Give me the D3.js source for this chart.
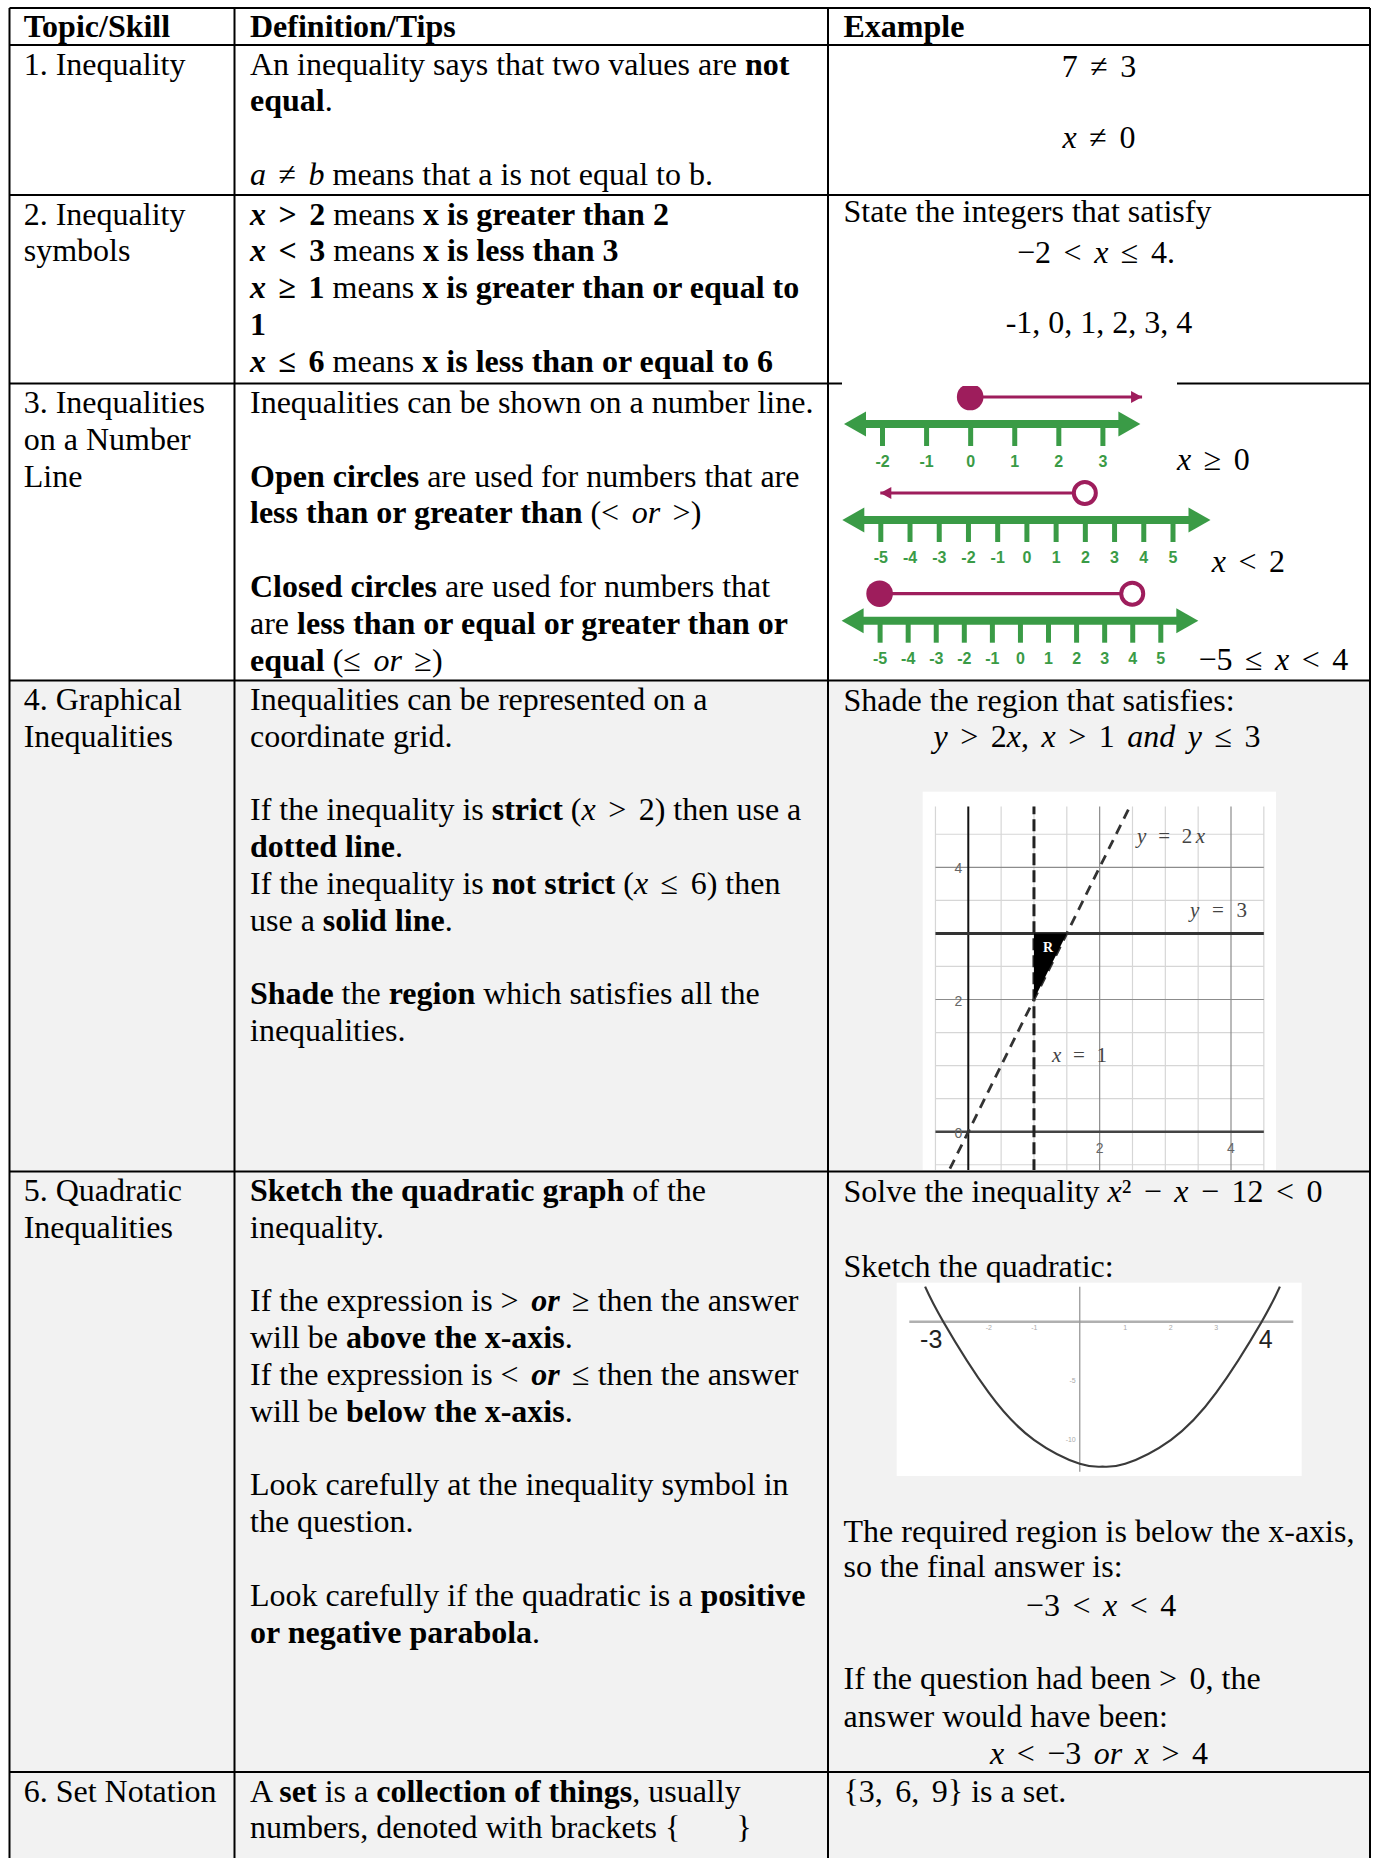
<!DOCTYPE html>
<html>
<head>
<meta charset="utf-8">
<script src="https://d3js.org/d3.v7.min.js"></script>
<style>
  body { margin: 0; background: #fff; }
  svg { display: block; }
  text { font-family: "Liberation Serif", "Times New Roman", serif; font-size: 32px; fill: #000; white-space: pre; }
</style>
</head>
<body>
<svg width="1373" height="1858"></svg>
<script>
// ---------- data ----------
var headers = ["Topic/Skill", "Definition/Tips", "Example"];

var topics = [
  ["1. Inequality"],
  ["2. Inequality", "symbols"],
  ["3. Inequalities", "on a Number", "Line"],
  ["4. Graphical", "Inequalities"],
  ["5. Quadratic", "Inequalities"],
  ["6. Set Notation"]
];

// **bold**  $math$  _italic_
var tips = [
  ["An inequality says that two values are **not**",
   "**equal**.",
   "",
   "$a ≠ b$ means that a is not equal to b."],
  ["**$x > 2$** means **x is greater than 2**",
   "**$x < 3$** means **x is less than 3**",
   "**$x ≥ 1$** means **x is greater than or equal to**",
   "**1**",
   "**$x ≤ 6$** means **x is less than or equal to 6**"],
  ["Inequalities can be shown on a number line.",
   "",
   "**Open circles** are used for numbers that are",
   "**less than or greater than** ($< or >$)",
   "",
   "**Closed circles** are used for numbers that",
   "are **less than or equal or greater than or**",
   "**equal** ($≤ or ≥$)"],
  ["Inequalities can be represented on a",
   "coordinate grid.",
   "",
   "If the inequality is **strict** ($x > 2$) then use a",
   "**dotted line**.",
   "If the inequality is **not strict** ($x ≤ 6$) then",
   "use a **solid line**.",
   "",
   "**Shade** the **region** which satisfies all the",
   "inequalities."],
  ["**Sketch the quadratic graph** of the",
   "inequality.",
   "",
   "If the expression is $> **or** ≥$ then the answer",
   "will be **above the x-axis**.",
   "If the expression is $< **or** ≤$ then the answer",
   "will be **below the x-axis**.",
   "",
   "Look carefully at the inequality symbol in",
   "the question.",
   "",
   "Look carefully if the quadratic is a **positive**",
   "**or negative parabola**."],
  ["A **set** is a **collection of things**, usually",
   "numbers, denoted with brackets {       }"]
];

var examples = [
  ["$7 ≠ 3$", "$x ≠ 0$"],
  ["State the integers that satisfy", "$−2 < x ≤ 4.$", "-1, 0, 1, 2, 3, 4"],
  [],
  ["Shade the region that satisfies:", "$y > 2x, x > 1 and y ≤ 3$"],
  ["Solve the inequality $x² − x − 12 < 0$", "Sketch the quadratic:",
   "The required region is below the x-axis,", "so the final answer is:", "$−3 < x < 4$",
   "If the question had been $> 0$, the", "answer would have been:", "$x < −3 or x > 4$"],
  ["${3, 6, 9}$ is a set."]
];

// number lines
var nlTicks = [
  [-2, -1, 0, 1, 2, 3],
  [-5, -4, -3, -2, -1, 0, 1, 2, 3, 4, 5],
  [-5, -4, -3, -2, -1, 0, 1, 2, 3, 4, 5]
];
var nlLabels = ["x ≥ 0", "x < 2", "−5 ≤ x < 4"];
var nlClosed = [[0], [], [-5]];
var nlOpen = [[], [2], [4]];
var nlRay = [[0, 3.9], [2, -5], [-5, 4]];
var nlRayArrow = [true, true, false];

// graphical inequality grid
var gridMinorX = [-0.5, 0.5, 1, 1.5, 2.5, 3, 3.5, 4.5];
var gridMajorX = [2, 4];
var gridMinorY = [-0.5, 0.5, 1, 1.5, 2.5, 3.5, 4.5];
var gridMajorY = [2, 4];
var gridSpanX = [-0.5, 4.5];
var gridSpanY = [-0.6, 4.92];
var tickLabelsY = [4, 2, 0];
var tickLabelsX = [2, 4];
var lineY3 = [[-0.5, 3], [4.5, 3]];
var lineX1 = [[1, -0.6], [1, 4.92]];
var lineY2x = [[-0.28, -0.56], [2.44, 4.88]];
var regionR = [[1, 2], [1, 3], [1.5, 3]];
var graphLabels = ["y = 2x", "y = 3", "x = 1"];

// quadratic sketch
var quadX = [-3.4, -3, -2, -1, 0, 0.5, 1, 2, 3, 4, 4.4];
var quadY = [2.96, 0, -6, -10, -12, -12.25, -12, -10, -6, 0, 2.96];
var quadTickX = [-2, -1, 1, 2, 3];
var quadTickY = [-5, -10];
var quadRoots = [-3, 4];

// ---------- layout ----------
var svg = d3.select("svg");
var colX = [9.5, 234.5, 828, 1370];
var rowY = [8, 45, 195, 383.5, 680.5, 1171.5, 1772, 1858];
var grayFrom = 4;
var lineH = 36.8, firstBase = 29.5;
var padX = [14.2, 15.5, 15.5];
var exLayout = [
  [[77, "middle", 1099], [148, "middle", 1099]],
  [[222, "start"], [263, "middle", 1096], [333, "middle", 1099]],
  [],
  [[711, "start"], [747, "middle", 1097]],
  [[1201.7, "start"], [1276.7, "start"], [1541.7, "start"], [1576.7, "start"],
   [1616, "middle", 1101], [1689.3, "start"], [1726.7, "start"], [1764, "middle", 1099]],
  [[1802, "start"]]
];
var green = "#3a9b46", purple = "#9e1d5c";
var sans = "'Liberation Sans', Arial, sans-serif";

function parseRuns(str) {
  var out = [], bold = false, math = false, ital = false, buf = "", i = 0;
  function flush() { if (buf) out.push({t: buf, b: bold, m: math, i: ital}); buf = ""; }
  while (i < str.length) {
    if (str.substr(i, 2) === "**") { flush(); bold = !bold; i += 2; }
    else if (str[i] === "$") { flush(); math = !math; i++; }
    else if (str[i] === "_") { flush(); ital = !ital; i++; }
    else { buf += str[i]; i++; }
  }
  flush();
  return out;
}

function drawRich(parent, x, y, str, anchor) {
  var t = parent.append("text").attr("x", x).attr("y", y).attr("text-anchor", anchor || "start");
  parseRuns(str).forEach(function (r) {
    var parts = r.m ? r.t.split(/([A-Za-z]+)/) : [r.t];
    parts.forEach(function (p, k) {
      if (!p) return;
      var ts = t.append("tspan").text(p);
      if (r.b) ts.style("font-weight", "bold");
      if (r.i || (r.m && k % 2 === 1)) ts.style("font-style", "italic");
      if (r.m) ts.style("word-spacing", "4.5px");
    });
  });
  return t;
}

// backgrounds
svg.append("rect").attr("x", colX[0]).attr("y", rowY[grayFrom])
  .attr("width", colX[3] - colX[0]).attr("height", rowY[7] - rowY[grayFrom]).attr("fill", "#f2f2f2");

// text
var txt = svg.append("g");
headers.forEach(function (h, c) {
  drawRich(txt, colX[c] + padX[c], 37, "**" + h + "**");
});
topics.forEach(function (lines, r) {
  lines.forEach(function (l, k) {
    drawRich(txt, colX[0] + padX[0], rowY[r + 1] + firstBase + k * lineH, l);
  });
});
tips.forEach(function (lines, r) {
  lines.forEach(function (l, k) {
    if (l) drawRich(txt, colX[1] + padX[1], rowY[r + 1] + firstBase + k * lineH, l);
  });
});
examples.forEach(function (lines, r) {
  lines.forEach(function (l, k) {
    var p = exLayout[r][k];
    drawRich(txt, p[2] || colX[2] + padX[2], p[0], l, p[1]);
  });
});

// number lines
var nlRange = [[882, 1102.4], [880.3, 1172.5], [879.6, 1160.3]];
var nlAxisY = [424, 520, 620.7];
var nlLabelPos = [[1177, 470], [1211.7, 571.7], [1198.5, 670]];
var nlG = svg.append("g");
nlTicks.forEach(function (ticks, i) {
  var x = d3.scaleLinear().domain(d3.extent(ticks)).range(nlRange[i]);
  var g = nlG.append("g").attr("transform", "translate(0," + nlAxisY[i] + ")");
  var xl = x.range()[0] - 38, xr = x.range()[1] + 38;
  g.append("line").attr("x1", xl + 15).attr("x2", xr - 15).attr("y1", 0).attr("y2", 0)
    .attr("stroke", green).attr("stroke-width", 8);
  g.append("path").attr("d", "M" + xl + ",0L" + (xl + 22) + ",-12.5L" + (xl + 22) + ",12.5Z").attr("fill", green);
  g.append("path").attr("d", "M" + xr + ",0L" + (xr - 22) + ",-12.5L" + (xr - 22) + ",12.5Z").attr("fill", green);
  var ag = g.append("g").call(d3.axisBottom(x).tickValues(ticks).tickSize(22).tickPadding(10)
    .tickFormat(function (d) { return String(d); }));
  ag.select(".domain").remove();
  ag.selectAll(".tick line").attr("stroke", green).attr("stroke-width", 5);
  ag.selectAll(".tick text").style("fill", green)
    .style("font-family", sans).style("font-weight", "bold").style("font-size", "16px");

  var py = -27, ray = nlRay[i];
  g.append("line").attr("x1", x(ray[0])).attr("x2", x(ray[1])).attr("y1", py).attr("y2", py)
    .attr("stroke", purple).attr("stroke-width", 3.2);
  if (nlRayArrow[i]) {
    var dir = ray[1] > ray[0] ? 1 : -1, tip = x(ray[1]);
    g.append("path").attr("d", "M" + tip + "," + py + "L" + (tip - dir * 11) + "," + (py - 6) +
      "L" + (tip - dir * 11) + "," + (py + 6) + "Z").attr("fill", purple);
  }
  g.selectAll("circle.c").data(nlClosed[i]).join("circle").attr("class", "c")
    .attr("cx", function (d) { return x(d); }).attr("cy", py).attr("r", 13.3).attr("fill", purple);
  g.selectAll("circle.o").data(nlOpen[i]).join("circle").attr("class", "o")
    .attr("cx", function (d) { return x(d); }).attr("cy", py).attr("r", 11)
    .attr("fill", "#fff").attr("stroke", purple).attr("stroke-width", 4);
  drawRich(nlG, nlLabelPos[i][0], nlLabelPos[i][1], "$" + nlLabels[i] + "$");
});

// graphical inequalities
var box = {x0: 922.7, y0: 791.7, x1: 1276, y1: 1170};
var gG = svg.append("g");
gG.append("clipPath").attr("id", "gclip").append("rect")
  .attr("x", box.x0).attr("y", box.y0).attr("width", box.x1 - box.x0).attr("height", box.y1 - box.y0);
gG.append("rect").attr("x", box.x0).attr("y", box.y0).attr("width", box.x1 - box.x0)
  .attr("height", box.y1 - box.y0).attr("fill", "#fff");
var gx = d3.scaleLinear().domain([0, 4]).range([968.3, 1231]);
var gy = d3.scaleLinear().domain([0, 4]).range([1131.7, 867.3]);
var gp = gG.append("g").attr("clip-path", "url(#gclip)");
function vlines(vals, col, w) {
  gp.selectAll(null).data(vals).join("line")
    .attr("x1", function (d) { return gx(d); }).attr("x2", function (d) { return gx(d); })
    .attr("y1", gy(gridSpanY[1])).attr("y2", gy(gridSpanY[0])).attr("stroke", col).attr("stroke-width", w);
}
function hlines(vals, col, w) {
  gp.selectAll(null).data(vals).join("line")
    .attr("y1", function (d) { return gy(d); }).attr("y2", function (d) { return gy(d); })
    .attr("x1", gx(gridSpanX[0])).attr("x2", gx(gridSpanX[1])).attr("stroke", col).attr("stroke-width", w);
}
vlines(gridMinorX, "#d6d6d6", 1.2);
hlines(gridMinorY, "#d6d6d6", 1.2);
vlines(gridMajorX, "#8c8c8c", 1.2);
hlines(gridMajorY, "#8c8c8c", 1.2);
hlines([0], "#444", 2.6);
vlines([0], "#111", 2);
var gl = d3.line().x(function (d) { return gx(d[0]); }).y(function (d) { return gy(d[1]); });
gp.append("path").attr("d", gl(lineY3)).attr("stroke", "#333").attr("stroke-width", 3).attr("fill", "none");
gp.append("path").attr("d", gl(lineX1)).attr("stroke", "#222").attr("stroke-width", 3)
  .attr("stroke-dasharray", "12,5").attr("fill", "none");
gp.append("path").attr("d", gl(lineY2x)).attr("stroke", "#333").attr("stroke-width", 2.8)
  .attr("stroke-dasharray", "10,7").attr("fill", "none");
gp.append("path").attr("d", gl(regionR) + "Z").attr("fill", "#000");
gp.append("text").attr("x", gx(1) + 9).attr("y", gy(2.72)).text("R")
  .style("font-size", "14px").style("font-weight", "bold").style("fill", "#fff");
var graphLabelPos = [[1137, 843, 68], [1190, 917, 57], [1052, 1062, 55]];
graphLabels.forEach(function (s, k) {
  var p = graphLabelPos[k];
  var t = gp.append("text").attr("x", p[0]).attr("y", p[1])
    .attr("textLength", p[2]).attr("lengthAdjust", "spacing").style("font-size", "21px").style("fill", "#444");
  s.split(/([a-z])/).forEach(function (part, j) {
    if (!part) return;
    var ts = t.append("tspan").text(part);
    if (j % 2 === 1) ts.style("font-style", "italic");
  });
});
gp.selectAll(null).data(tickLabelsY).join("text")
  .attr("x", gx(0) - 6).attr("y", function (d) { return gy(d) + 6; }).attr("text-anchor", "end")
  .style("fill", "#666").style("font-family", sans).style("font-size", "14px")
  .text(function (d) { return d; });
gp.selectAll(null).data(tickLabelsX).join("text")
  .attr("x", function (d) { return gx(d); }).attr("y", gy(0) + 21).attr("text-anchor", "middle")
  .style("fill", "#666").style("font-family", sans).style("font-size", "14px")
  .text(function (d) { return d; });

// quadratic sketch
var qbox = {x0: 896.7, y0: 1282.7, x1: 1301.7, y1: 1476};
var qG = svg.append("g");
qG.append("rect").attr("x", qbox.x0).attr("y", qbox.y0).attr("width", qbox.x1 - qbox.x0)
  .attr("height", qbox.y1 - qbox.y0).attr("fill", "#fff");
var qx = d3.scaleLinear().domain([-3, 4]).range([943.3, 1261.7]);
var qy = d3.scaleLinear().domain([-12.25, 0]).range([1466.7, 1321.7]);
qG.append("line").attr("x1", 909.3).attr("x2", 1293.3).attr("y1", qy(0)).attr("y2", qy(0))
  .attr("stroke", "#b0b0b0").attr("stroke-width", 2.5);
qG.append("line").attr("x1", qx(0)).attr("x2", qx(0)).attr("y1", 1286.7).attr("y2", 1471.7)
  .attr("stroke", "#999").attr("stroke-width", 1.3);
qG.selectAll(null).data(quadTickX).join("text")
  .attr("x", function (d) { return qx(d); }).attr("y", qy(0) + 8).attr("text-anchor", "middle")
  .style("fill", "#aaa").style("font-family", sans).style("font-size", "7px")
  .text(function (d) { return d; });
qG.selectAll(null).data(quadTickY).join("text")
  .attr("x", qx(0) - 4).attr("y", function (d) { return qy(d) + 2; }).attr("text-anchor", "end")
  .style("fill", "#aaa").style("font-family", sans).style("font-size", "7px")
  .text(function (d) { return d; });
var quadPts = quadX.map(function (v, k) { return [v, quadY[k]]; });
qG.append("path").attr("d", d3.line().curve(d3.curveNatural)
    .x(function (d) { return qx(d[0]); }).y(function (d) { return qy(d[1]); })(quadPts))
  .attr("fill", "none").attr("stroke", "#3a3a3a").attr("stroke-width", 2.2);
qG.selectAll(null).data(quadRoots).join("text")
  .attr("x", function (d) { return d < 0 ? qx(d) - 1 : qx(d) - 3; })
  .attr("y", qy(0) + 26).attr("text-anchor", function (d) { return d < 0 ? "end" : "start"; })
  .style("fill", "#222").style("font-family", sans).style("font-size", "25px")
  .text(function (d) { return String(d); });

// borders
var bG = svg.append("g").attr("stroke", "#000").attr("stroke-width", 2);
bG.selectAll(null).data(rowY.slice(0, 7)).join("line")
  .attr("x1", colX[0]).attr("x2", colX[3]).attr("y1", function (d) { return d; }).attr("y2", function (d) { return d; });
bG.selectAll(null).data(colX).join("line")
  .attr("x1", function (d) { return d; }).attr("x2", function (d) { return d; }).attr("y1", rowY[0]).attr("y2", rowY[7]);
// the number-line picture sits over the row border
svg.append("rect").attr("x", 842).attr("y", 382).attr("width", 335).attr("height", 4).attr("fill", "#fff");
</script>
</body>
</html>
